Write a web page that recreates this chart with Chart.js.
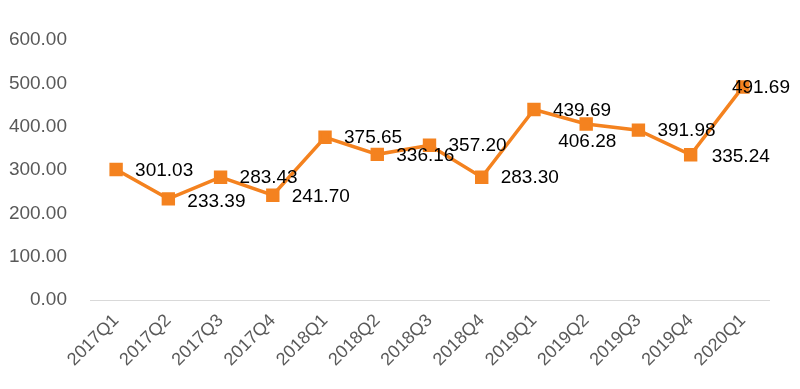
<!DOCTYPE html>
<html><head><meta charset="utf-8">
<script src="https://cdn.jsdelivr.net/npm/chart.js@4/dist/chart.umd.min.js"></script>
<style>html,body{margin:0;padding:0;background:#fff}#wrap{width:800px;height:389px}</style>
</head><body><div id="wrap"><canvas id="c"></canvas></div>
<script>
const categories = ['2017Q1','2017Q2','2017Q3','2017Q4','2018Q1','2018Q2','2018Q3','2018Q4','2019Q1','2019Q2','2019Q3','2019Q4','2020Q1'];
const values = [301.03,233.39,283.43,241.70,375.65,336.16,357.20,283.30,439.69,406.28,391.98,335.24,491.69];
const yTicks = [0,100,200,300,400,500,600];

const FONT = '"Liberation Sans", Arial, sans-serif';

const labelPlugin = {
  id: 'pointLabels',
  afterDatasetsDraw(chart, args, opts) {
    const ctx = chart.ctx;
    const meta = chart.getDatasetMeta(0);
    ctx.save();
    ctx.font = '19px ' + FONT;
    ctx.fillStyle = '#000';
    ctx.textBaseline = 'middle';
    ctx.textAlign = 'left';
    meta.data.forEach((pt, i) => {
      const adj = (opts.adjust && opts.adjust[i]) || [0, 0];
      ctx.fillText(values[i].toFixed(2), pt.x + 19 + adj[0], pt.y + 1 + adj[1]);
    });
    ctx.restore();
  }
};

new Chart(document.getElementById('c'), {
  type: 'line',
  data: {
    labels: categories,
    datasets: [{
      data: values,
      borderColor: '#F4821F',
      backgroundColor: '#F4821F',
      borderWidth: 3.5,
      pointStyle: 'rect',
      pointRadius: 7,
      pointHoverRadius: 7,
      tension: 0
    }]
  },
  options: {
    responsive: true,
    maintainAspectRatio: false,
    animation: false,
    events: [],
    layout: { padding: { top: 40, right: 31, left: 0, bottom: 0 } },
    plugins: {
      legend: { display: false },
      tooltip: { enabled: false },
      pointLabels: { adjust: { 1: [0, 2], 3: [0, 1], 9: [-47, 17], 11: [2, 1], 12: [-30, 0] } }
    },
    scales: {
      x: {
        offset: true,
        grid: { display: false, drawTicks: false },
        border: { display: true, color: '#D9D9D9', width: 1 },
        afterFit: (s) => { s.height = 89; },
        ticks: {
          color: '#595959',
          font: { size: 18, family: FONT },
          minRotation: 45, maxRotation: 45,
          padding: 10,
          autoSkip: false
        }
      },
      y: {
        min: 0, max: 600,
        afterBuildTicks: (s) => { s.ticks = yTicks.map(v => ({ value: v })); },
        afterFit: (s) => { s.width = 90; },
        grid: { display: false, drawTicks: false },
        border: { display: false },
        ticks: {
          color: '#595959',
          font: { size: 19, family: FONT },
          padding: 23,
          callback: (v) => Number(v).toFixed(2)
        }
      }
    }
  },
  plugins: [labelPlugin]
});
</script></body></html>
